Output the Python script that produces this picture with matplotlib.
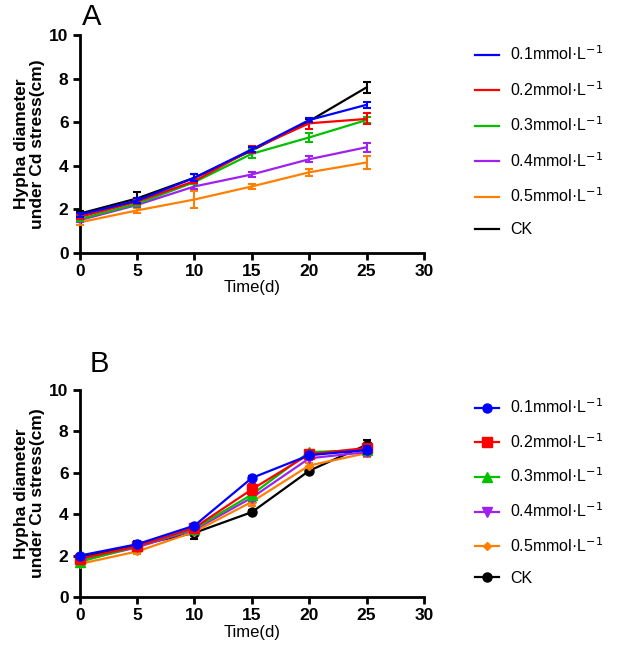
import matplotlib
matplotlib.use("Agg")
import matplotlib.pyplot as plt
import numpy as np

plt.rcParams['font.family'] = ['Liberation Sans', 'DejaVu Sans']

days = [0, 5, 10, 15, 20, 25]
labels = ["0.1mmol·L$^{-1}$", "0.2mmol·L$^{-1}$", "0.3mmol·L$^{-1}$",
          "0.4mmol·L$^{-1}$", "0.5mmol·L$^{-1}$", "CK"]
colors = ["#0000ff", "#ff0000", "#00c000", "#a020f0", "#ff8000", "#000000"]
markers_b = ["o", "s", "^", "v", "D", "o"]

# panel A: Cd stress
cd_mean = [
    [1.75, 2.40, 3.45, 4.75, 6.10, 6.80],
    [1.65, 2.35, 3.30, 4.75, 5.95, 6.15],
    [1.55, 2.25, 3.25, 4.55, 5.30, 6.10],
    [1.50, 2.20, 3.05, 3.60, 4.30, 4.85],
    [1.40, 1.95, 2.45, 3.05, 3.70, 4.15],
    [1.80, 2.50, 3.45, 4.70, 6.05, 7.60],
]
cd_err = [
    [0.10, 0.10, 0.15, 0.10, 0.10, 0.15],
    [0.10, 0.10, 0.10, 0.15, 0.25, 0.25],
    [0.10, 0.10, 0.10, 0.20, 0.20, 0.15],
    [0.10, 0.10, 0.10, 0.10, 0.15, 0.20],
    [0.10, 0.10, 0.40, 0.10, 0.15, 0.30],
    [0.10, 0.30, 0.15, 0.10, 0.10, 0.25],
]

# panel B: Cu stress
cu_mean = [
    [2.00, 2.55, 3.45, 5.75, 6.85, 7.10],
    [1.85, 2.45, 3.35, 5.20, 6.90, 7.20],
    [1.70, 2.45, 3.30, 4.95, 7.00, 7.10],
    [1.75, 2.40, 3.25, 4.80, 6.70, 7.00],
    [1.60, 2.20, 3.15, 4.60, 6.35, 6.95],
    [1.90, 2.50, 3.10, 4.10, 6.10, 7.35],
]
cu_err = [
    [0.10, 0.10, 0.10, 0.10, 0.10, 0.20],
    [0.10, 0.10, 0.10, 0.25, 0.10, 0.20],
    [0.10, 0.10, 0.10, 0.15, 0.10, 0.20],
    [0.10, 0.10, 0.10, 0.15, 0.10, 0.20],
    [0.10, 0.10, 0.10, 0.20, 0.10, 0.20],
    [0.10, 0.20, 0.30, 0.10, 0.10, 0.25],
]


def style_axes(ax, ylabel):
    ax.set_xlim(0, 30)
    ax.set_ylim(0, 10)
    ax.set_xticks(range(0, 31, 5))
    ax.set_yticks(range(0, 11, 2))
    for s in ["top", "right"]:
        ax.spines[s].set_visible(False)
    for s in ["left", "bottom"]:
        ax.spines[s].set_linewidth(2)
    ax.tick_params(width=2, length=5, labelsize=12.5, pad=3)
    for lab in ax.get_xticklabels() + ax.get_yticklabels():
        lab.set_fontweight("bold")
    ax.set_xlabel("Time(d)", fontsize=12, labelpad=1)
    ax.set_ylabel(ylabel, fontsize=12.5, fontweight="bold", linespacing=1.05,
                  labelpad=3)


fig = plt.figure(figsize=(6.18, 6.5), dpi=100)
ax_a = fig.add_axes([0.129, 0.611, 0.557, 0.335])
ax_b = fig.add_axes([0.129, 0.0815, 0.557, 0.3185])

for i in range(6):
    ax_a.errorbar(days, cd_mean[i], yerr=cd_err[i], color=colors[i], lw=1.6,
                  capsize=3, capthick=1.5, elinewidth=1.5, label=labels[i],
                  clip_on=False, zorder=3 + (5 - i))
for i in range(6):
    ax_b.errorbar(days, cu_mean[i], yerr=cu_err[i], color=colors[i], lw=1.6,
                  marker=markers_b[i], ms=6.5 if markers_b[i] != "D" else 4.5,
                  capsize=3, capthick=1.5, elinewidth=1.5, label=labels[i],
                  clip_on=False, zorder=3 + (5 - i))

style_axes(ax_a, "Hypha diameter\nunder Cd stress(cm)")
style_axes(ax_b, "Hypha diameter\nunder Cu stress(cm)")

for ax, top, sp in ((ax_a, 0.985, 1.05), (ax_b, 0.995, 1.0)):
    h, l = ax.get_legend_handles_labels()
    h = [x[0] for x in h]
    ax.legend(h, l, loc="upper left", bbox_to_anchor=(1.13, top), frameon=False,
              fontsize=11.5, handlelength=1.5, handletextpad=0.7,
              labelspacing=sp, borderaxespad=0)

fig.text(0.133, 0.974, "A", fontsize=21, va="center", ha="left")
fig.text(0.145, 0.44, "B", fontsize=21, va="center", ha="left")

fig.savefig("out.png", dpi=100)
